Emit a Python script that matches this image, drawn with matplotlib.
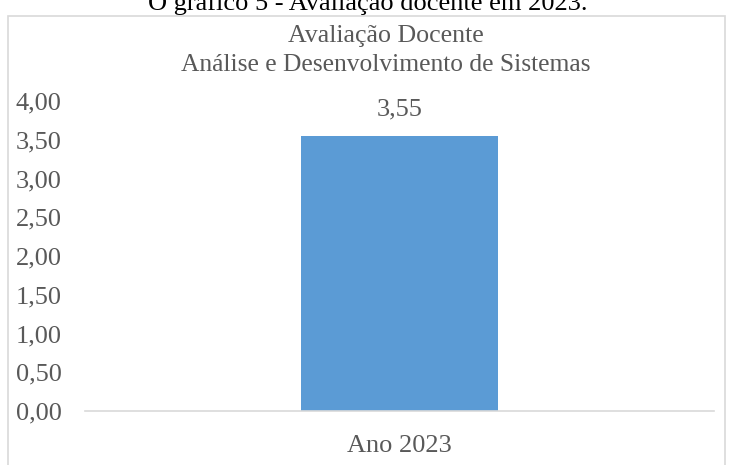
import matplotlib
matplotlib.use('Agg')
import matplotlib.pyplot as plt
from matplotlib.patches import Rectangle

categories = ['Ano 2023']
values = [3.55]
yticks = [0, 0.5, 1, 1.5, 2, 2.5, 3, 3.5, 4]

plt.rcParams['font.family'] = ['Liberation Serif', 'DejaVu Serif']
gray = '#595959'
fs = 19

fig = plt.figure(figsize=(7.35, 4.65), dpi=100)
W, H = 735.0, 465.0

# chart frame
fig.patches.append(Rectangle((8 / W, -0.05), 717 / W, 1.05 - 16 / H,
                             transform=fig.transFigure, fill=False,
                             edgecolor='#d9d9d9', linewidth=1.2))

# caption, cut at the top edge as in the source
fig.text(0.5, 1 - 4 / H, 'O gráfico 5 - Avaliação docente em 2023.',
         ha='center', va='center', fontsize=fs, color='black')

fig.text(386 / W, 1 - 36 / H, 'Avaliação Docente', ha='center', va='center',
         fontsize=18.6, color=gray)
fig.text(386 / W, 1 - 65 / H, 'Análise e Desenvolvimento de Sistemas',
         ha='center', va='center', fontsize=18.4, color=gray)

ax = fig.add_axes([85 / W, 1 - 411 / H, 629 / W, 310 / H])
x = list(range(len(categories)))
bars = ax.bar(x, values, width=0.313, color='#5b9bd5', zorder=2)
for b, v in zip(bars, values):
    ax.text(b.get_x() + b.get_width() / 2, v + 0.2, '{:.2f}'.format(v).replace('.', ','),
            ha='center', va='bottom', fontsize=fs, color=gray)

ax.set_xlim(-0.5, 0.5)
ax.set_ylim(0, 4)
ax.set_yticks(yticks)
ax.set_yticklabels(['{:.2f}'.format(t).replace('.', ',') for t in yticks])
ax.set_xticks(x)
ax.set_xticklabels(categories)
ax.tick_params(axis='both', length=0, labelsize=fs, labelcolor=gray)
ax.tick_params(axis='y', pad=50)
for lbl in ax.get_yticklabels():
    lbl.set_horizontalalignment('left')
ax.tick_params(axis='x', pad=17)
for s in ['left', 'right', 'top']:
    ax.spines[s].set_visible(False)
ax.spines['bottom'].set_color('#d9d9d9')
ax.spines['bottom'].set_linewidth(1.2)
ax.patch.set_alpha(0)

plt.savefig('out.png', dpi=100)
